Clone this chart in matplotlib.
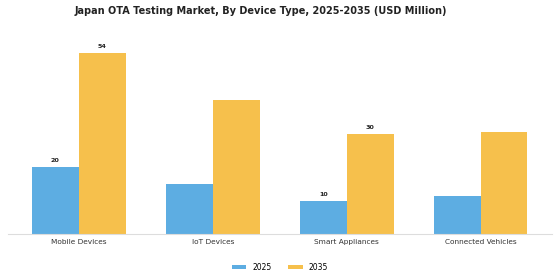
import matplotlib
matplotlib.use('Agg')
import matplotlib.pyplot as plt
import numpy as np

categories = ['Mobile Devices', 'IoT Devices', 'Smart Appliances', 'Connected Vehicles']
values_2025 = [20, 15, 10, 11.5]
values_2035 = [54, 40, 30, 30.5]
# only some bars carry a value label in the original
labels_2025 = ['20', '', '10', '']
labels_2035 = ['54', '', '30', '']

color_2025 = '#5DADE2'
color_2035 = '#F6C04C'

fig = plt.figure(figsize=(5.6, 2.8), dpi=100)
ax = fig.add_axes([0.014, 0.164, 0.971, 0.718])

x = np.arange(len(categories))
w = 0.35
bars1 = ax.bar(x - w / 2, values_2025, w, color=color_2025, label='2025')
bars2 = ax.bar(x + w / 2, values_2035, w, color=color_2035, label='2035')

for bars, labels in [(bars1, labels_2025), (bars2, labels_2035)]:
    for b, lab in zip(bars, labels):
        if lab:
            ax.text(b.get_x() + b.get_width() / 2, b.get_height() + 1.2, lab,
                    ha='center', va='bottom', fontsize=4.6, fontweight='bold', color='#222222')

ax.set_xlim(-0.53, 3.53)
ax.set_ylim(0, 60)
ax.set_xticks(x)
ax.set_xticklabels(categories, fontsize=5.3, color='#333333')
ax.tick_params(axis='x', length=0, pad=3.5)
ax.set_yticks([])
for s in ['top', 'right', 'left']:
    ax.spines[s].set_visible(False)
ax.spines['bottom'].set_color('#dddddd')
ax.spines['bottom'].set_linewidth(0.8)

fig.suptitle('Japan OTA Testing Market, By Device Type, 2025-2035 (USD Million)',
             fontsize=7, fontweight='bold', x=0.466, y=0.98, color='#222222')

fig.legend(loc='lower center', bbox_to_anchor=(0.5, 0.005), ncol=2, frameon=False,
           fontsize=5.5, handlelength=1.9, handleheight=0.6, columnspacing=2.2)

fig.savefig('out.png', dpi=100)
